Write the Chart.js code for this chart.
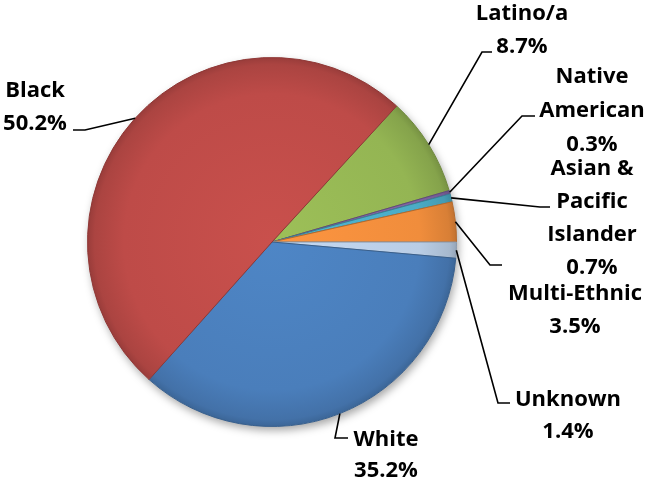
<!DOCTYPE html>
<html>
<head>
<meta charset="utf-8">
<script src="https://cdn.jsdelivr.net/npm/chart.js@4/dist/chart.umd.min.js"></script>
<style>
  html, body { margin: 0; padding: 0; background: #fff; }
  #wrap { width: 646px; height: 477px; }
</style>
</head>
<body>
<div id="wrap"><canvas id="grafico" width="646" height="477"></canvas></div>
<script>
// Datos del gráfico (orden horario desde el borde Negro/Latino)
const categorias = ['Latino/a', 'Native American', 'Asian & Pacific Islander', 'Multi-Ethnic', 'Unknown', 'White', 'Black']
const porcentajes = [8.7, 0.3, 0.7, 3.5, 1.4, 35.2, 50.2]
// Como se parte el nombre en lineas para la etiqueta
const lineasNombre = [['Latino/a'], ['Native', 'American'], ['Asian &', 'Pacific', 'Islander'], ['Multi-Ethnic'], ['Unknown'], ['White'], ['Black']]
const colores = ['#94b553', '#8064a2', '#4bacc6', '#f08d3c', '#b9cde5', '#4a7ebb', '#be4b48']

// Posicion de cada etiqueta y su linea guia (codo y final)
const posEtiquetas = [
  { x: 522, y: 12, alto: 33, codo: [482, 52], fin: [492, 52] },
  { x: 592, y: 75, alto: 34, codo: [522, 116], fin: [535, 116] },
  { x: 592, y: 167, alto: 33, codo: [540, 207], fin: [550, 207] },
  { x: 575, y: 292, alto: 32.5, codo: [490, 265], fin: [502, 265] },
  { x: 568, y: 398, alto: 32, codo: [498, 403], fin: [510, 403] },
  { x: 386, y: 438, alto: 31, codo: [335, 438], fin: [348, 438] },
  { x: 35, y: 89, alto: 33, codo: [85, 130], fin: [73, 130] }
]

function oscurecer(hex, f) {
  const n = parseInt(hex.slice(1), 16)
  const r = Math.round(((n >> 16) & 255) * f)
  const g = Math.round(((n >> 8) & 255) * f)
  const b = Math.round((n & 255) * f)
  return `rgb(${Math.min(r, 255)}, ${Math.min(g, 255)}, ${Math.min(b, 255)})`
}

// Relleno con degradado para imitar el bisel de Excel
function relleno(context) {
  const chart = context.chart
  const area = chart.chartArea
  const base = colores[context.dataIndex]
  if (!area) return base
  const cx = (area.left + area.right) / 2
  const cy = (area.top + area.bottom) / 2
  const r = Math.min(area.width, area.height) / 2
  const grad = chart.ctx.createRadialGradient(cx, cy, 0, cx, cy, r)
  grad.addColorStop(0, oscurecer(base, 1.06))
  grad.addColorStop(0.8, base)
  grad.addColorStop(0.96, oscurecer(base, 0.9))
  grad.addColorStop(1, oscurecer(base, 0.8))
  return grad
}

// Sombra suave bajo el pastel
const sombra = {
  id: 'sombra',
  beforeDatasetsDraw(chart) {
    const arco = chart.getDatasetMeta(0).data[0]
    if (!arco) return
    const ctx = chart.ctx
    ctx.save()
    ctx.shadowColor = 'rgba(0, 0, 0, 0.35)'
    ctx.shadowBlur = 9
    ctx.shadowOffsetX = 2
    ctx.shadowOffsetY = 4
    ctx.fillStyle = '#ffffff'
    ctx.beginPath()
    ctx.arc(arco.x, arco.y, arco.outerRadius, 0, Math.PI * 2)
    ctx.fill()
    ctx.restore()
  }
}

// Etiquetas de texto con lineas guia
const etiquetas = {
  id: 'etiquetas',
  afterDatasetsDraw(chart) {
    const ctx = chart.ctx
    const arcos = chart.getDatasetMeta(0).data
    ctx.save()
    arcos.forEach((arco, i) => {
      const p = posEtiquetas[i]
      const medio = (arco.startAngle + arco.endAngle) / 2
      const x0 = arco.x + Math.cos(medio) * arco.outerRadius
      const y0 = arco.y + Math.sin(medio) * arco.outerRadius
      ctx.strokeStyle = '#000'
      ctx.lineWidth = 1.6
      ctx.beginPath()
      ctx.moveTo(x0, y0)
      ctx.lineTo(p.codo[0], p.codo[1])
      ctx.lineTo(p.fin[0], p.fin[1])
      ctx.stroke()

      const lineas = lineasNombre[i].concat([porcentajes[i] + '%'])
      ctx.fillStyle = '#000'
      ctx.font = 'bold 22px "Open Sans"'
      ctx.textAlign = 'center'
      ctx.textBaseline = 'alphabetic'
      lineas.forEach((texto, j) => {
        ctx.fillText(texto, p.x, p.y + j * p.alto + 8)
      })
    })
    ctx.restore()
  }
}

const datos = {
  labels: categorias,
  datasets: [{
    data: porcentajes,
    backgroundColor: relleno,
    borderColor: colores.map(c => oscurecer(c, 0.75)),
    borderWidth: 1
  }]
}

new Chart(document.getElementById('grafico'), {
  type: 'pie',
  data: datos,
  options: {
    responsive: false,
    animation: false,
    // en Chart.js v4 el 0 es arriba, asi que -47.5 grados del lienzo = 42.5
    rotation: 42.5,
    layout: { padding: { top: 57, bottom: 50, left: 87, right: 189 } },
    plugins: {
      legend: { display: false },
      tooltip: { enabled: false }
    }
  },
  plugins: [sombra, etiquetas]
})
</script>
</body>
</html>
